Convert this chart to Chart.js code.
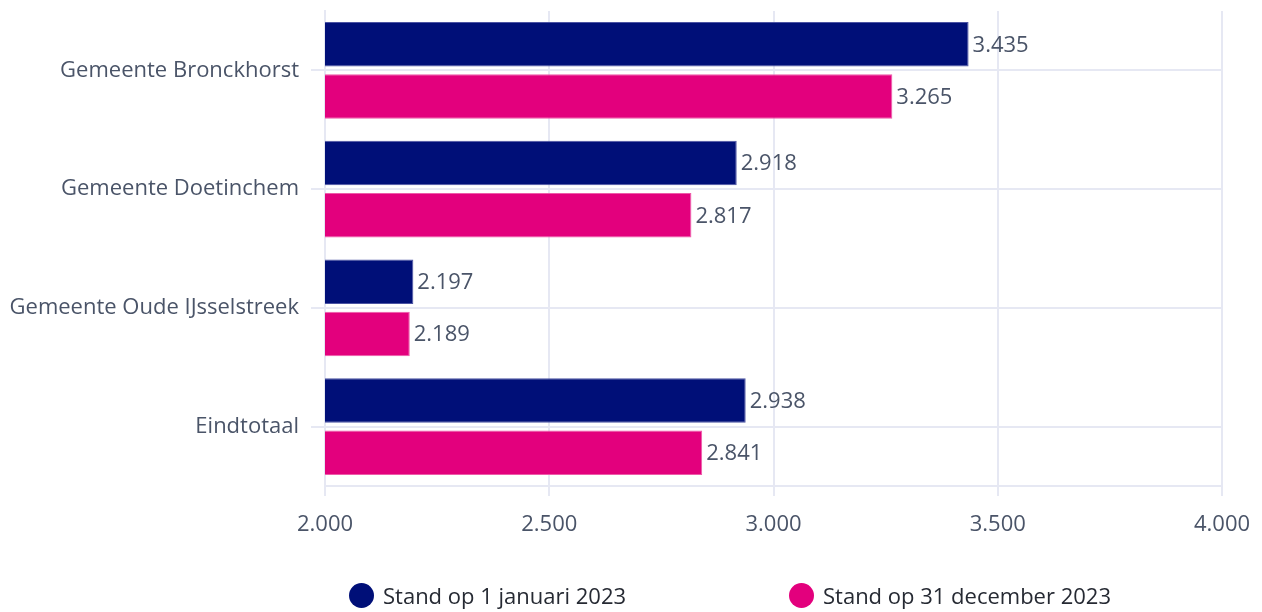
<!DOCTYPE html>
<html>
<head>
<meta charset="utf-8">
<script src="https://cdn.jsdelivr.net/npm/chart.js@4.4.1/dist/chart.umd.min.js"></script>
<style>
    html, body { margin:0; padding:0; background:#ffffff; }
    #wrap { position:relative; width:1262px; height:612px; }
    #legenda { position:absolute; left:0; top:582px; width:1262px; height:26px;
               font-family:"Open Sans", sans-serif; font-size:22px; color:#262a33; }
    .item { position:absolute; top:0; display:flex; align-items:center; height:26px; white-space:nowrap; }
    .bol { width:25px; height:25px; border-radius:50%; margin-right:9px; }
</style>
</head>
<body>
<div id="wrap">
    <canvas id="grafico" width="1262" height="612"></canvas>
    <div id="legenda"></div>
</div>
<script>

// =====================================
// DATA
// =====================================

const gemeenten = [
    "Gemeente Bronckhorst",
    "Gemeente Doetinchem",
    "Gemeente Oude IJsselstreek",
    "Eindtotaal"
];

const standJanuari = [3435, 2918, 2197, 2938];

const standDecember = [3265, 2817, 2189, 2841];

const reeksNamen = [
    "Stand op 1 januari 2023",
    "Stand op 31 december 2023"
];

const xTicks = [2000, 2500, 3000, 3500, 4000];


// =====================================
// HULPFUNCTIES
// =====================================

const kleuren = ["#000f78", "#e3007d"];
const randKleuren = ["#4b53a3", "#ee5aa9"];
const tekstKleur = "#4a5468";
const rasterKleur = "#e6e8f3";

function formatNL(v){
    return String(v).replace(/\B(?=(\d{3})+(?!\d))/g, ".");
}


// =====================================
// WAARDE LABELS
// =====================================

const waardeLabels = {

    id:"waardeLabels",

    afterDatasetsDraw(chart){

        const ctx = chart.ctx;

        ctx.save();
        ctx.font = "22px 'Open Sans'";
        ctx.fillStyle = tekstKleur;
        ctx.textAlign = "left";
        ctx.textBaseline = "middle";

        chart.data.datasets.forEach((ds, i)=>{

            chart.getDatasetMeta(i).data.forEach((bar, j)=>{

                ctx.fillText(formatNL(ds.data[j]), bar.x + 4, bar.y + 1);

            });

        });

        ctx.restore();
    }
};


// =====================================
// GRAFIEK
// =====================================

const grafiek =
new Chart(document.getElementById("grafico"),{

    type:"bar",

    data:{

        labels:gemeenten,

        datasets:[
            {
                label:reeksNamen[0],
                data:standJanuari,
                backgroundColor:kleuren[0],
                borderColor:randKleuren[0],
                borderWidth:1,
                borderSkipped:false,
                barPercentage:0.853,
                categoryPercentage:0.88
            },
            {
                label:reeksNamen[1],
                data:standDecember,
                backgroundColor:kleuren[1],
                borderColor:randKleuren[1],
                borderWidth:1,
                borderSkipped:false,
                barPercentage:0.853,
                categoryPercentage:0.88
            }
        ]
    },

    options:{

        indexAxis:"y",
        responsive:false,
        animation:false,

        layout:{
            padding:{ left:10, right:40, top:11, bottom:0 }
        },

        plugins:{
            legend:{ display:false },
            tooltip:{ enabled:false }
        },

        scales:{

            x:{
                min:2000,
                max:4000,
                afterBuildTicks(scale){
                    scale.ticks = xTicks.map(v=>({ value:v }));
                },
                afterFit(scale){
                    scale.height = 612 - 486;
                    scale.paddingLeft = 0;
                    scale.paddingRight = 0;
                },
                ticks:{
                    color:tekstKleur,
                    font:{ family:"'Open Sans'", size:22 },
                    padding:16,
                    callback:v=>formatNL(v)
                },
                grid:{
                    color:rasterKleur,
                    lineWidth:2,
                    tickLength:10
                },
                border:{ color:rasterKleur, width:2 }
            },

            y:{
                afterFit(scale){
                    scale.width = 325 - 10;
                    scale.paddingTop = 0;
                    scale.paddingBottom = 0;
                },
                ticks:{
                    color:tekstKleur,
                    font:{ family:"'Open Sans'", size:22 },
                    padding:12
                },
                grid:{
                    color:rasterKleur,
                    lineWidth:2,
                    offset:false,
                    tickLength:14
                },
                border:{ color:rasterKleur, width:2 }
            }
        }
    },

    plugins:[waardeLabels]

});


// =====================================
// LEGENDA
// =====================================

const legendaPosities = [349, 789];

const legenda = document.getElementById("legenda");

reeksNamen.forEach((naam, i)=>{

    const item = document.createElement("div");
    item.className = "item";
    item.style.left = legendaPosities[i] + "px";

    const bol = document.createElement("span");
    bol.className = "bol";
    bol.style.background = kleuren[i];

    const tekst = document.createElement("span");
    tekst.textContent = naam;

    item.appendChild(bol);
    item.appendChild(tekst);
    legenda.appendChild(item);

});

</script>
</body>
</html>
